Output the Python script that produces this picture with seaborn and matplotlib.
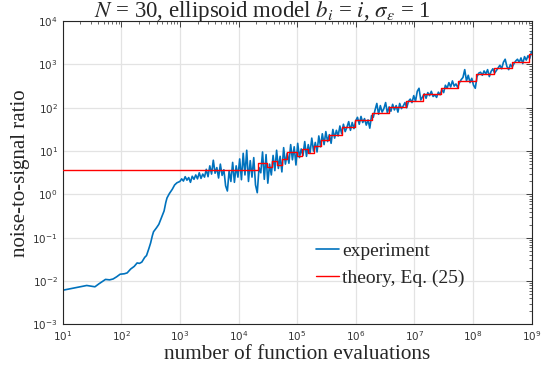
import numpy as np
import pandas as pd
import matplotlib
matplotlib.use("Agg")
import matplotlib.pyplot as plt
from matplotlib.ticker import FixedLocator, FuncFormatter, NullFormatter
import seaborn as sns

# experiment: log10(evaluations) and log10(noise-to-signal ratio)
exp_logx = [1.00, 1.15, 1.30, 1.41, 1.50, 1.55, 1.62, 1.73, 1.80, 1.86, 1.92, 1.98,
            2.05, 2.10, 2.16, 2.22, 2.27, 2.31, 2.35, 2.40, 2.43, 2.47, 2.50, 2.53,
            2.55, 2.60, 2.64, 2.68, 2.73, 2.76, 2.78, 2.82, 2.87, 2.91, 2.95, 3.00]
exp_logy = [-2.21, -2.17, -2.13, -2.10, -2.12, -2.13, -2.06, -1.96, -1.97, -1.95, -1.90, -1.84,
            -1.83, -1.81, -1.72, -1.66, -1.58, -1.59, -1.56, -1.45, -1.41, -1.25, -1.12, -0.95,
            -0.86, -0.77, -0.69, -0.55, -0.38, -0.18, -0.08, 0.02, 0.12, 0.22, 0.27, 0.30]

# noisy part, one value every 0.03 decades from 10^3.03 to 10^9
noisy_logx = [round(3.03 + 0.03 * i, 2) for i in range(200)]
noisy_logy = [
    0.36, 0.31, 0.41, 0.33, 0.39, 0.28, 0.42, 0.35, 0.45, 0.36,
    0.50, 0.37, 0.47, 0.40, 0.58, 0.41, 0.66, 0.47, 0.79, 0.49,
    0.62, 0.38, 0.70, 0.44, 0.57, 0.20, 0.08, 0.55, 0.30, 0.74,
    0.28, 0.66, 0.40, 0.82, 0.34, 0.95, 0.45, 1.02, 0.30, 0.78,
    0.40, 0.85, 0.22, 0.04, 0.62, 0.50, 0.98, 0.35, 0.92, 0.26,
    0.70, 0.45, 0.90, 0.55, 1.02, 0.60, 0.88, 0.52, 1.08, 0.70,
    0.95, 0.72, 1.15, 0.80, 1.10, 0.68, 1.18, 0.85, 1.05, 0.90,
    1.22, 0.88, 1.15, 0.95, 1.30, 1.00, 1.20, 0.98, 1.35, 1.10,
    1.40, 1.15, 1.45, 1.22, 1.38, 1.18, 1.50, 1.30, 1.48, 1.35,
    1.58, 1.40, 1.62, 1.45, 1.55, 1.68, 1.48, 1.66, 1.52, 1.70,
    1.78, 1.62, 1.80, 1.66, 1.75, 1.60, 1.72, 1.53, 1.82, 1.78,
    1.95, 2.10, 1.85, 2.05, 1.90, 1.98, 2.12, 1.88, 2.02, 1.92,
    2.08, 1.95, 2.05, 1.90, 2.10, 1.98, 2.04, 2.12, 2.00, 2.15,
    2.20, 2.12, 2.28, 2.15, 2.38, 2.45, 2.18, 2.25, 2.32, 2.22,
    2.35, 2.28, 2.38, 2.26, 2.30, 2.24, 2.36, 2.30, 2.42, 2.35,
    2.52, 2.45, 2.58, 2.48, 2.62, 2.50, 2.55, 2.47, 2.58, 2.65,
    2.70, 2.88, 2.62, 2.75, 2.58, 2.68, 2.52, 2.45, 2.72, 2.80,
    2.82, 2.75, 2.85, 2.78, 2.88, 2.72, 2.84, 2.90, 2.80, 2.86,
    2.92, 2.98, 2.90, 3.05, 3.12, 2.95, 2.88, 3.00, 2.94, 3.02,
    3.08, 3.12, 3.05, 3.15, 3.02, 3.18, 3.10, 3.20, 3.14, 3.30,
]

# theory, Eq. (25): step edges and levels (log10)
theory_logx = [1.0, 4.34, 4.48, 4.57, 4.66, 4.74, 4.83, 4.99, 5.08, 5.19, 5.28, 5.40, 5.55,
               5.76, 5.99, 6.27, 6.56, 6.86, 7.15, 7.45, 7.75, 8.05, 8.36, 8.66, 8.96, 9.0]
theory_logy = [0.564, 0.72, 0.64, 0.78, 0.68, 0.81, 0.97, 0.89, 1.04, 0.95, 1.12, 1.26, 1.38,
               1.55, 1.72, 1.87, 2.01, 2.16, 2.32, 2.46, 2.62, 2.78, 2.91, 3.06, 3.25, 3.25]

x_decades = list(range(1, 10))
y_decades = list(range(-3, 5))

exp_df = pd.DataFrame({
    "evals": 10.0 ** np.array(exp_logx + noisy_logx),
    "ratio": 10.0 ** np.array(exp_logy + noisy_logy),
})
th_df = pd.DataFrame({"evals": 10.0 ** np.array(theory_logx),
                      "ratio": 10.0 ** np.array(theory_logy)})

sns.set_style("white")
plt.rcParams["mathtext.fontset"] = "stix"
serif = ["Liberation Serif", "DejaVu Serif"]

fig = plt.figure(figsize=(5.49, 3.70), dpi=100)
ax = fig.add_axes([0.1142, 0.123, 0.854, 0.820])

sns.lineplot(data=exp_df, x="evals", y="ratio", ax=ax, color="#0072BD", lw=1.2,
             estimator=None, sort=False, label="experiment", zorder=2)
sns.lineplot(data=th_df, x="evals", y="ratio", ax=ax, color="#FF0000", lw=1.0,
             estimator=None, sort=False, drawstyle="steps-post",
             label="theory, Eq. (25)", zorder=3)

ax.set_xscale("log")
ax.set_yscale("log")
ax.set_xlim(1e1, 1e9)
ax.set_ylim(1e-3, 1e4)

fmt = FuncFormatter(lambda v, p: r"$\mathregular{10^{%d}}$" % round(np.log10(v)))
for axis, decs in ((ax.xaxis, x_decades), (ax.yaxis, y_decades)):
    majors = [10.0 ** d for d in decs]
    minors = [m * 10.0 ** d for d in decs[:-1] for m in range(2, 10)]
    axis.set_major_locator(FixedLocator(majors))
    axis.set_minor_locator(FixedLocator(minors))
    axis.set_major_formatter(fmt)
    axis.set_minor_formatter(NullFormatter())

ax.tick_params(which="both", direction="in", top=True, right=True, colors="#262626",
               labelsize=7.5, labelcolor="#333333")
ax.tick_params(which="major", length=4, width=0.6)
ax.tick_params(which="minor", length=2.2, width=0.5)
ax.grid(True, which="major", color="#e3e3e3", lw=0.9)
ax.set_axisbelow(True)
for s in ax.spines.values():
    s.set_color("#262626")
    s.set_linewidth(0.8)

ax.set_xlabel("number of function evaluations", family=serif, fontsize=15.3)
ax.xaxis.set_label_coords(0.5, -0.066)
ax.set_ylabel("noise-to-signal ratio", family=serif, fontsize=15)
ax.yaxis.set_label_coords(-0.070, 0.5)
ax.set_title(r"$N$ = 30, ellipsoid model $b_i$ = $i$, $\sigma_\epsilon$ = 1",
             family=serif, fontsize=16.5, pad=3.0, x=0.425)

ax.legend(loc="upper left", bbox_to_anchor=(0.54, 0.27), borderaxespad=0, borderpad=0,
          frameon=False, prop={"family": serif, "size": 14}, handlelength=1.2,
          handletextpad=0.15, labelspacing=0.45)

fig.savefig("out.png", dpi=100)
